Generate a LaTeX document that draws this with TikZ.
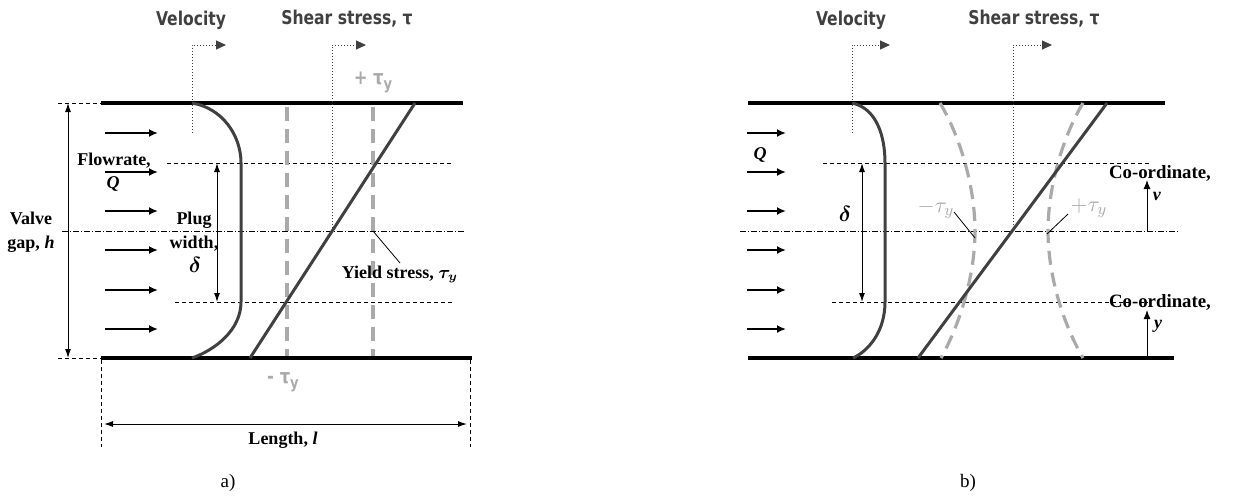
\documentclass[tikz,border=0pt]{standalone}
\usepackage{amsmath}
\usepackage{fontspec}
\setmainfont{Liberation Serif}
\newfontfamily\headfont[FakeStretch=0.82]{DejaVu Sans}
\usetikzlibrary{arrows.meta,positioning,calc}
\definecolor{profgray}{RGB}{64,64,64}
\definecolor{yieldgray}{RGB}{170,170,170}

\tikzset{
  wall/.style={line width=2pt},
  profile/.style={profgray,line width=1.5pt},
  yieldline/.style={yieldgray,line width=1.6pt,dash pattern=on 7pt off 4pt},
  flowarrow/.style={-{Latex[length=4.5pt,width=4pt]},line width=0.9pt},
  dimarrow/.style={{Latex[length=4.5pt,width=3pt]}-{Latex[length=4.5pt,width=3pt]},line width=0.5pt},
  uparrow/.style={-{Latex[length=4.5pt,width=3.5pt]},line width=0.5pt},
  plugline/.style={line width=0.5pt,dash pattern=on 2pt off 1.5pt},
  centreline/.style={line width=0.4pt,dash pattern=on 3pt off 1pt on 0.5pt off 1pt},
  axisdot/.style={-{Triangle[length=5pt,width=4.5pt]},profgray,line width=0.5pt,densely dotted},
  leader/.style={line width=0.4pt},
  headlbl/.style={font=\headfont\bfseries\fontsize{9.5}{10}\selectfont,text=profgray},
  tylbl/.style={font=\headfont\bfseries\fontsize{10}{11}\selectfont,text=yieldgray},
  tymath/.style={font=\fontsize{11}{12}\selectfont,text=yieldgray},
  lbl/.style={font=\bfseries\fontsize{9}{12}\selectfont},
  dlbl/.style={font=\fontsize{11}{12}\selectfont},
  colbl/.style={font=\bfseries\fontsize{9.4}{11}\selectfont},
  caplbl/.style={font=\fontsize{9.5}{11}\selectfont}
}

\begin{document}
\begin{tikzpicture}[x=0.5pt,y=-0.5pt,>=Latex]
\useasboundingbox (0,0) rectangle (1240,498);

% ---------------- a) ----------------
\draw[wall] (101,103) -- (463,103);
\draw[wall] (101,358) -- (472,358);
\draw[plugline] (58,103) -- (101,103);
\draw[plugline] (58,358) -- (101,358);
\coordinate (gapT) at (68,103);
\coordinate (gapB) at (68,358);
\draw[dimarrow] (gapT) -- (gapB);
\node[lbl,align=center] (gapLbl) at (31,232) {Valve\\gap, \textit{h}};

% flow arrows
\foreach \yy [count=\i] in {133,172,211,250,290,329}{
  \coordinate (qa\i) at (105,\yy);
  \coordinate (qb\i) at (158,\yy);
  \draw[flowarrow] (qa\i) -- (qb\i);
}
\node[lbl] (flowLbl) at (114,161) {Flowrate,};
\node[lbl] (qLbl) at (113,184) {\textit{Q}};

% plug boundaries and centre line
\draw[plugline] (167,163) -- (453,163);
\draw[plugline] (175,302) -- (455,302);
\draw[centreline] (62,231) -- (465,231);
\coordinate (plugT) at (217,163);
\coordinate (plugB) at (217,302);
\draw[dimarrow] (plugT) -- (plugB);
\node[lbl,align=center] (plugLbl) at (194,232) {Plug\\width,};
\node[dlbl] (plugD) at (195,265) {$\boldsymbol{\delta}$};

% velocity profile
\draw[profile] (192,103) .. controls (222,108) and (241,135) .. (241,163)
  -- (241,302) .. controls (241,330) and (215,350) .. (192,358);
\coordinate (velO) at (192,133);
\coordinate (velC) at (192,45);
\coordinate (velE) at (226,45);
\draw[axisdot] (velO) -- (velC) -- (velE);
\node[headlbl] (velLbl) at (191,20) {Velocity};

% shear stress
\coordinate (shO) at (332,231);
\coordinate (shC) at (332,45);
\coordinate (shE) at (366,45);
\draw[axisdot] (shO) -- (shC) -- (shE);
\node[headlbl] (shLbl) at (347,19) {Shear stress, τ};
\draw[yieldline] (287,107) -- (287,356);
\draw[yieldline] (373,107) -- (373,356);
\draw[profile] (415,103) -- (250,358);
\node[tylbl] (tyPlus) at (373,82) {+ τ\raisebox{-0.45ex}{\fontsize{8}{9}\selectfont y}};
\node[tylbl] (tyMinus) at (283,382) {- τ\raisebox{-0.45ex}{\fontsize{8}{9}\selectfont y}};
\node[lbl] (yieldLbl) at (400,274) {Yield stress, $\boldsymbol{\tau_y}$};
\coordinate (yieldPt) at (373,231);
\coordinate (yieldEnd) at (400,263);
\draw[leader] (yieldPt) -- (yieldEnd);

% length
\draw[plugline] (101,360) -- (101,447);
\draw[plugline] (470,360) -- (470,447);
\coordinate (lenL) at (104,424);
\coordinate (lenR) at (467,424);
\draw[dimarrow] (lenL) -- (lenR);
\node[lbl] (lenLbl) at (283,440) {Length, \textit{l}};
\node[caplbl] (capA) at (228,483) {a)};

% ---------------- b) ----------------
\draw[wall] (748,103) -- (1165,103);
\draw[wall] (748,358) -- (1174,358);
\foreach \yy [count=\i] in {133,172,211,250,290,329}{
  \coordinate (ra\i) at (747,\yy);
  \coordinate (rb\i) at (786,\yy);
  \draw[flowarrow] (ra\i) -- (rb\i);
}
\node[lbl] (qLblB) at (760,155) {\textit{Q}};

\draw[plugline] (823,163) -- (1152,163);
\draw[plugline] (832,302) -- (1148,302);
\draw[centreline] (740,231) -- (1180,231);
\coordinate (dT) at (862,163);
\coordinate (dB) at (862,302);
\draw[dimarrow] (dT) -- (dB);
\node[dlbl] (dLbl) at (845,214) {$\boldsymbol{\delta}$};

% velocity profile
\draw[profile] (852,103) .. controls (876,108) and (885,135) .. (885,163)
  -- (885,302) .. controls (885,330) and (870,350) .. (853,358);
\coordinate (velOB) at (852,133);
\coordinate (velCB) at (852,45);
\coordinate (velEB) at (890,45);
\draw[axisdot] (velOB) -- (velCB) -- (velEB);
\node[headlbl] (velLblB) at (851,20) {Velocity};

% shear stress
\coordinate (shOB) at (1013,231);
\coordinate (shCB) at (1013,45);
\coordinate (shEB) at (1052,45);
\draw[axisdot] (shOB) -- (shCB) -- (shEB);
\node[headlbl] (shLblB) at (1034,19) {Shear stress, τ};
\draw[yieldline] (940,103) .. controls (962,140) and (975,190) .. (975,231)
  .. controls (975,272) and (962,320) .. (941,358);
\draw[yieldline] (1083,103) .. controls (1061,140) and (1048,190) .. (1048,231)
  .. controls (1048,272) and (1061,320) .. (1083,358);
\draw[profile] (1107,103) -- (918,358);
\node[tymath] (tyMinusB) at (936,209) {$-\tau_y$};
\node[tymath] (tyPlusB) at (1089,208) {$+\tau_y$};
\coordinate (lmA) at (954,212);
\coordinate (lmB) at (975,238);
\coordinate (lpA) at (1068,214);
\coordinate (lpB) at (1047,234);
\draw[leader] (lmA) -- (lmB);
\draw[leader] (lpA) -- (lpB);

% co-ordinates
\coordinate (vO) at (1147,231);
\coordinate (vE) at (1147,180);
\draw[uparrow] (vO) -- (vE);
\node[colbl] (coLblV) at (1160,173) {Co-ordinate,};
\node[lbl] (vLbl) at (1157,196) {\textit{v}};
\coordinate (yO) at (1147,358);
\coordinate (yE) at (1147,310);
\draw[uparrow] (yO) -- (yE);
\node[colbl] (coLblY) at (1160,302) {Co-ordinate,};
\node[lbl] (yLbl) at (1158,326) {\textit{y}};
\node[caplbl] (capB) at (968,483) {b)};
\end{tikzpicture}
\end{document}
